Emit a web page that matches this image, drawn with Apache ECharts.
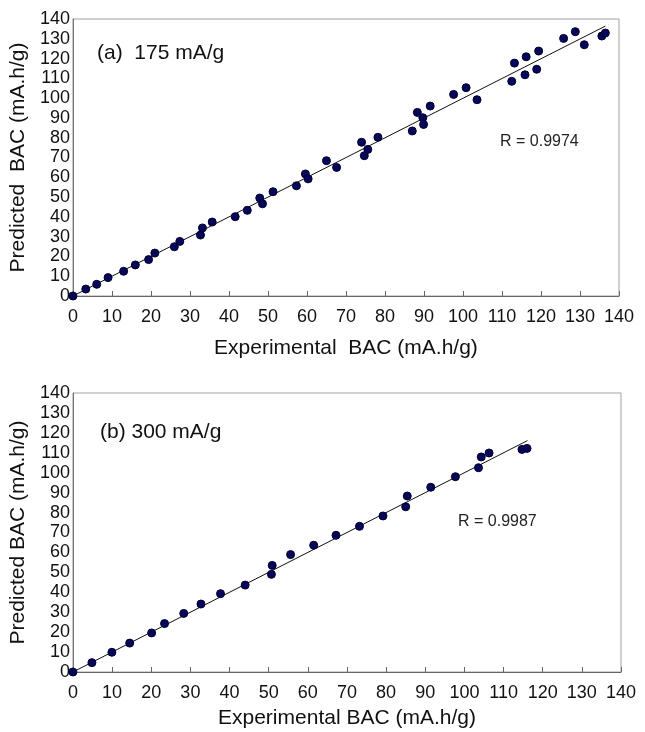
<!DOCTYPE html>
<html>
<head>
<meta charset="utf-8">
<script src="https://cdn.jsdelivr.net/npm/echarts@6/dist/echarts.min.js"></script>
<style>html,body{margin:0;padding:0;background:#fff;}#c{width:645px;height:732px;}</style>
</head>
<body>
<div id="c"></div>
<script>
// Panel (a) 175 mA/g: experimental vs predicted BAC
const expA = [0, 3.3, 6.1, 9.0, 13.0, 16.0, 19.4, 21.0, 26.0, 27.4, 32.7, 33.2, 35.7, 41.6, 44.7, 47.9, 48.6, 51.3, 57.3, 59.6, 60.3, 65.0, 67.6, 74.0, 74.7, 75.6, 78.2, 87.0, 88.3, 89.7, 89.9, 91.6, 97.6, 100.8, 103.6, 112.5, 113.2, 115.9, 116.2, 118.9, 119.4, 125.8, 128.8, 131.1, 135.6, 136.5];
const predA = [0, 3.5, 5.9, 9.3, 12.5, 15.7, 18.4, 21.7, 24.9, 27.6, 30.8, 34.4, 37.4, 40.1, 43.3, 49.5, 46.6, 52.7, 55.7, 61.7, 59.2, 68.4, 65.0, 77.7, 70.9, 74.1, 80.2, 83.4, 92.8, 90.1, 86.7, 96.0, 101.9, 105.3, 99.2, 108.5, 117.7, 111.8, 120.9, 114.6, 123.8, 130.2, 133.6, 127.0, 131.4, 132.9];
const fitA = [[0, 0], [136.5, 136.4]];

// Panel (b) 300 mA/g
const expB = [0, 4.85, 9.95, 14.5, 20.1, 23.4, 28.3, 32.7, 37.7, 44.0, 50.7, 50.9, 55.6, 61.5, 67.2, 73.2, 79.2, 85.0, 85.4, 91.4, 97.7, 103.6, 104.3, 106.3, 114.7, 116.0];
const predB = [0, 4.7, 9.9, 14.5, 19.6, 24.3, 29.4, 34.1, 39.3, 43.6, 49.0, 53.5, 58.9, 63.6, 68.6, 73.1, 78.3, 82.9, 88.3, 92.7, 98.0, 102.5, 107.9, 109.9, 111.7, 112.2];
const fitB = [[0, 0], [116.1, 116.1]];

const tickMin = 0, tickMax = 140, tickStep = 10;
const labelA = '(a)  175 mA/g', labelB = '(b) 300 mA/g';
const rA = 'R = 0.9974', rB = 'R = 0.9987';

const FONT = '"Liberation Sans", Arial, sans-serif';
const pairs = (xs, ys) => xs.map((x, i) => [x, ys[i]]);

function xAxis(grid, name, gap) {
  return {
    type: 'value', gridIndex: grid, min: tickMin, max: tickMax, interval: tickStep,
    name: name, nameLocation: 'middle', nameGap: gap,
    nameTextStyle: { fontFamily: FONT, fontSize: 21, color: '#111' },
    axisLine: { show: true, lineStyle: { color: '#666', width: 1 } },
    axisTick: { show: true, inside: true, length: 5, lineStyle: { color: '#666' } },
    axisLabel: { fontFamily: FONT, fontSize: 18, color: '#111', margin: 12 },
    splitLine: { show: false }
  };
}
function yAxis(grid, name, gap) {
  return {
    type: 'value', gridIndex: grid, min: tickMin, max: tickMax, interval: tickStep,
    name: name, nameLocation: 'middle', nameGap: gap,
    nameTextStyle: { fontFamily: FONT, fontSize: 21, color: '#111' },
    axisLine: { show: true, lineStyle: { color: '#777', width: 1 } },
    axisTick: { show: false },
    axisLabel: { fontFamily: FONT, fontSize: 18, color: '#111', margin: 3 },
    splitLine: { show: false }
  };
}
const markerStyle = { color: '#06065a', borderColor: '#00002a', borderWidth: 1, opacity: 1 };

const chart = echarts.init(document.getElementById('c'), null, { renderer: 'canvas' });
chart.setOption({
  backgroundColor: '#fff',
  animation: false,
  grid: [
    { left: 72, top: 19, width: 547, height: 277, show: true, borderColor: '#a0a0a0', borderWidth: 1 },
    { left: 72, top: 393, width: 549, height: 279, show: true, borderColor: '#a0a0a0', borderWidth: 1 }
  ],
  xAxis: [xAxis(0, 'Experimental  BAC (mA.h/g)', 42), xAxis(1, 'Experimental BAC (mA.h/g)', 36)],
  yAxis: [yAxis(0, 'Predicted  BAC (mA.h/g)', 41), yAxis(1, 'Predicted BAC (mA.h/g)', 41)],
  graphic: [
    { type: 'text', left: 97, top: 43, style: { text: labelA, font: '21px ' + FONT, fill: '#111' } },
    { type: 'text', left: 500, top: 134, style: { text: rA, font: '16px ' + FONT, fill: '#222' } },
    { type: 'text', left: 100, top: 422, style: { text: labelB, font: '21px ' + FONT, fill: '#111' } },
    { type: 'text', left: 458, top: 514, style: { text: rB, font: '16px ' + FONT, fill: '#222' } }
  ],
  series: [
    { type: 'line', xAxisIndex: 0, yAxisIndex: 0, data: fitA, showSymbol: false, symbol: 'none',
      lineStyle: { color: '#111', width: 1 }, silent: true, z: 2 },
    { type: 'scatter', xAxisIndex: 0, yAxisIndex: 0, data: pairs(expA, predA), symbolSize: 8,
      itemStyle: markerStyle, z: 3 },
    { type: 'line', xAxisIndex: 1, yAxisIndex: 1, data: fitB, showSymbol: false, symbol: 'none',
      lineStyle: { color: '#111', width: 1 }, silent: true, z: 2 },
    { type: 'scatter', xAxisIndex: 1, yAxisIndex: 1, data: pairs(expB, predB), symbolSize: 8,
      itemStyle: markerStyle, z: 3 }
  ]
});
</script>
</body>
</html>
